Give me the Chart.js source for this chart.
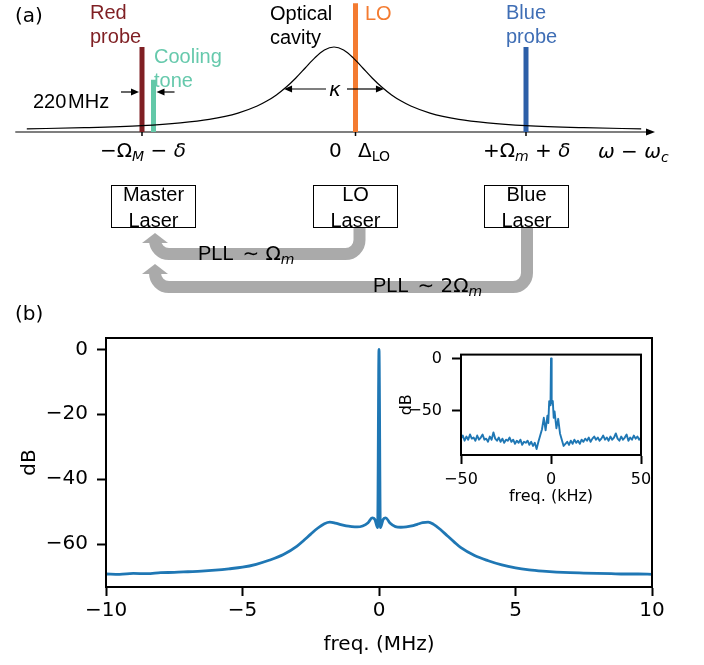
<!DOCTYPE html>
<html>
<head>
<meta charset="utf-8">
<title>Cavity tones and beat-note spectrum</title>
<script src="https://cdn.jsdelivr.net/npm/chart.js@4.4.1/dist/chart.umd.min.js"></script>
<style>
  html, body { margin: 0; padding: 0; background: #fff; }
  #fig { position: relative; width: 704px; height: 665px; overflow: hidden; font-family: "Liberation Sans", Arial, sans-serif; color: #000; }
  #fig canvas { position: absolute; }
  .lbl { position: absolute; white-space: nowrap; font-size: 20px; line-height: 24px; }
  .math { font-family: "DejaVu Sans", sans-serif; }
  .math i { font-style: italic; }
  .math sub { font-size: 14px; vertical-align: -4px; line-height: 0; }
  .box { position: absolute; top: 185px; width: 85px; height: 43px; border: 1.3px solid #000; box-sizing: border-box; }
  .boxtxt { position: absolute; top: 181px; width: 85px; text-align: center; font-size: 20px; line-height: 26px; }
</style>
</head>
<body>
<div id="fig">
  <canvas id="diagram" width="704" height="300" style="left:0;top:0"></canvas>
  <canvas id="spectrum" width="704" height="365" style="left:0;top:300px"></canvas>
  <canvas id="zoomed" width="314" height="175" style="left:390px;top:335px"></canvas>

  <div class="lbl math" style="left:15px;top:3px">(a)</div>
  <div class="lbl" style="left:90px;top:0;color:#7f1f23">Red<br>probe</div>
  <div class="lbl" style="left:154px;top:44px;color:#66c9ac">Cooling<br>tone</div>
  <div class="lbl" style="left:33px;top:89px">220&#8202;MHz</div>
  <div class="lbl" style="left:270px;top:1px">Optical<br>cavity</div>
  <div class="lbl" style="left:365px;top:1px;color:#f47b30">LO</div>
  <div class="lbl" style="left:506px;top:0;color:#3f6eb5">Blue<br>probe</div>
  <div class="lbl math" style="left:329px;top:77px"><i>κ</i></div>
  <div class="lbl math" style="left:100px;top:138px">−Ω<sub><i>M</i></sub> − <i>δ</i></div>
  <div class="lbl math" style="left:329px;top:138px">0</div>
  <div class="lbl math" style="left:358px;top:138px">Δ<sub>LO</sub></div>
  <div class="lbl math" style="left:483px;top:138px">+Ω<sub><i>m</i></sub> + <i>δ</i></div>
  <div class="lbl math" style="left:598px;top:139px"><i>ω</i> − <i>ω</i><sub><i>c</i></sub></div>

  <div class="box" style="left:111px"></div>
  <div class="box" style="left:313px"></div>
  <div class="box" style="left:484px"></div>
  <div class="boxtxt" style="left:111px">Master<br>Laser</div>
  <div class="boxtxt" style="left:313px">LO<br>Laser</div>
  <div class="boxtxt" style="left:484px">Blue<br>Laser</div>
  <div class="lbl" style="left:198px;top:241px">PLL <span class="math">&#8201;∼ Ω<sub><i>m</i></sub></span></div>
  <div class="lbl" style="left:373px;top:273px">PLL <span class="math">&#8201;∼ 2Ω<sub><i>m</i></sub></span></div>

  <div class="lbl math" style="left:15px;top:301px">(b)</div>
</div>

<script>
// ---- (a) schematic: tone frequencies in units of (Omega_m + delta), heights relative to cavity peak
const toneFreq = [-1.0, -0.94, 0.112, 1.0];      // red probe, cooling tone, LO, blue probe
const toneHeight = [1.0, 0.61, 1.52, 1.0];
const cavityX = [-1.6, -1.3, -1.0, -0.8, -0.65, -0.5, -0.4, -0.35, -0.3, -0.25, -0.2, -0.15, -0.1, -0.05, 0,
                 0.05, 0.1, 0.15, 0.2, 0.25, 0.3, 0.35, 0.4, 0.5, 0.65, 0.8, 1.0, 1.3, 1.6];
const cavityY = [0.026, 0.039, 0.063, 0.096, 0.138, 0.213, 0.297, 0.356, 0.429, 0.520, 0.628, 0.750, 0.871, 0.964, 1.0,
                 0.964, 0.871, 0.750, 0.628, 0.520, 0.429, 0.356, 0.297, 0.213, 0.138, 0.096, 0.063, 0.039, 0.026];
const cavityHalfWidth = 0.26;

// ---- (b) beat-note spectrum, MHz vs dB
const mainFreq = [-10, -9.5, -9, -8.5, -8, -7.5, -7, -6.5, -6, -5.5, -5,
                  -4.5, -4, -3.5, -3, -2.75, -2.5, -2.25, -2,
                  -1.8, -1.6, -1.4, -1.2, -1, -0.8, -0.6, -0.4,
                  -0.25, -0.15, -0.05, 0, 0.05, 0.15, 0.25,
                  0.4, 0.6, 0.8, 1, 1.2, 1.4, 1.6, 1.8,
                  2, 2.25, 2.5, 2.75, 3, 3.5, 4, 4.5, 5,
                  5.5, 6, 6.5, 7, 7.5, 8, 8.5, 9, 9.5, 10];
const mainDb = [-69.2, -69.3, -69.0, -69.1, -68.8, -68.7, -68.5, -68.3, -68.0, -67.6, -67.1,
                -66.2, -64.9, -63.2, -60.6, -58.8, -56.9, -55.1, -53.7,
                -53.2, -53.5, -54.0, -54.4, -54.6, -54.7, -54.4, -53.4,
                -51.9, -52.4, -54.9, 0, -54.9, -52.4, -51.9,
                -53.5, -54.6, -54.8, -54.7, -54.4, -53.9, -53.4, -53.2,
                -53.9, -55.5, -57.4, -59.3, -61.1, -63.5, -65.1, -66.4, -67.3,
                -67.9, -68.3, -68.6, -68.8, -68.9, -69.0, -69.1, -69.2, -69.2, -69.3];

// ---- inset, kHz vs dB
const insetFreq = [-50, -49, -48, -47, -46, -45, -44, -43, -42, -41, -40, -39, -38, -37, -36, -35, -34,
                   -33, -32, -31, -30, -29, -28, -27, -26, -25, -24, -23, -22, -21, -20, -19, -18,
                   -17, -16, -15, -14, -13, -12, -11, -10, -9, -8, -7, -6, -5, -4, -3, -2,
                   -1.5, -1, -0.5, -0.25, 0, 0.25, 0.5, 1, 1.5,
                   2, 3, 4, 5, 6, 7, 8, 9, 10, 11, 12, 13, 14, 15, 16, 17, 18,
                   19, 20, 21, 22, 23, 24, 25, 26, 27, 28, 29, 30, 31, 32, 33, 34,
                   35, 36, 37, 38, 39, 40, 41, 42, 43, 44, 45, 46, 47, 48, 49, 50];
const insetDb = [-77, -74, -79, -75, -78, -73, -77, -76, -79, -74, -78, -76, -73, -78, -77, -80, -75,
                 -78, -71, -77, -79, -76, -80, -77, -81, -78, -79, -76, -80, -78, -82, -79, -81,
                 -78, -83, -80, -81, -79, -83, -80, -84, -81, -87, -80, -74, -68, -57, -69, -55,
                 -62, -41, -45, -39, 0, -40, -43, -41, -57,
                 -51, -67, -58, -72, -78, -84, -82, -80, -83, -79, -82, -78, -81, -79, -82, -78, -80,
                 -77, -79, -76, -80, -77, -75, -78, -76, -79, -77, -74, -78, -76, -79, -75, -78,
                 -76, -72, -77, -79, -75, -78, -76, -73, -79, -76, -78, -74, -77, -75, -78, -76];

const mainXTicks = [-10, -5, 0, 5, 10];
const mainYTicks = [0, -20, -40, -60];
const insetXTicks = [-50, 0, 50];
const insetYTicks = [0, -50];

const toneColors = ['#7f1f23', '#63c8a8', '#f47b30', '#2d5fa8'];
const lineBlue = '#1f77b4';

const pts = (xs, ys) => xs.map((x, i) => ({ x: x, y: ys[i] }));
const minus = v => String(v).replace('-', '\u2212');

function arrowHead(ctx, x, y, dx, dy, len, half) {
  ctx.beginPath();
  ctx.moveTo(x, y);
  ctx.lineTo(x - dx * len - dy * half, y - dy * len + dx * half);
  ctx.lineTo(x - dx * len + dy * half, y - dy * len - dx * half);
  ctx.closePath();
  ctx.fill();
}

function thinArrow(ctx, x0, y0, x1, y1) {
  const d = Math.hypot(x1 - x0, y1 - y0), dx = (x1 - x0) / d, dy = (y1 - y0) / d;
  ctx.beginPath();
  ctx.moveTo(x0, y0);
  ctx.lineTo(x1 - dx * 5, y1 - dy * 5);
  ctx.stroke();
  arrowHead(ctx, x1, y1, dx, dy, 8, 3.5);
}

// thick grey PLL feedback arrow: down from a laser box, along, then up into the master box
function pllArrow(ctx, xs, yTop, yRun, xe, yTip) {
  const r = 14, head = 10;
  ctx.save();
  ctx.strokeStyle = '#aaaaaa';
  ctx.fillStyle = '#aaaaaa';
  ctx.lineWidth = 12;
  ctx.beginPath();
  ctx.moveTo(xs, yTop);
  ctx.arcTo(xs, yRun, xe, yRun, r);
  ctx.arcTo(xe, yRun, xe, yTip, r);
  ctx.lineTo(xe, yTip + head);
  ctx.stroke();
  ctx.beginPath();
  ctx.moveTo(xe, yTip);
  ctx.lineTo(xe + 13, yTip + head);
  ctx.lineTo(xe - 13, yTip + head);
  ctx.closePath();
  ctx.fill();
  ctx.restore();
}

const schematic = {
  id: 'schematic',
  beforeDatasetsDraw(chart) {
    const { ctx, scales: { x, y } } = chart;
    const y0 = y.getPixelForValue(0) + 1;
    ctx.save();
    ctx.strokeStyle = '#7f7f7f';
    ctx.lineWidth = 2;
    ctx.beginPath();
    ctx.moveTo(x.getPixelForValue(-1.66), y0);
    ctx.lineTo(x.getPixelForValue(1.655), y0);
    ctx.stroke();
    ctx.fillStyle = '#000';
    arrowHead(ctx, x.getPixelForValue(1.672), y0, 1, 0, 9, 3.5);
    ctx.strokeStyle = '#000';
    ctx.lineWidth = 1.5;
    [0, 2, 3].forEach(i => {
      const px = x.getPixelForValue(toneFreq[i]);
      ctx.beginPath();
      ctx.moveTo(px, y0);
      ctx.lineTo(px, y0 + 4);
      ctx.stroke();
    });
    ctx.restore();
  },
  afterDatasetsDraw(chart) {
    const { ctx, scales: { x, y } } = chart;
    ctx.save();
    ctx.strokeStyle = '#000';
    ctx.fillStyle = '#000';
    ctx.lineWidth = 1.2;
    // cavity linewidth kappa at half maximum
    const yk = y.getPixelForValue(0.5);
    const xc = x.getPixelForValue(0) + 2;
    thinArrow(ctx, xc - 10, yk, x.getPixelForValue(-cavityHalfWidth), yk);
    thinArrow(ctx, xc + 11, yk, x.getPixelForValue(cavityHalfWidth), yk);
    // 220 MHz spacing between red probe and cooling tone
    const ya = 92;
    const xr = x.getPixelForValue(toneFreq[0]), xcool = x.getPixelForValue(toneFreq[1]);
    thinArrow(ctx, xr - 21, ya, xr - 3, ya);
    thinArrow(ctx, xcool + 21, ya, xcool + 3, ya);
    ctx.restore();
    // PLL arrows
    const xm = x.getPixelForValue(toneFreq[1]) + 1.5;
    pllArrow(ctx, x.getPixelForValue(toneFreq[2]) + 4, 228, 254, xm, 233);
    pllArrow(ctx, x.getPixelForValue(toneFreq[3]) + 1, 228, 287, xm, 264);
  }
};

const framePlugin = {
  id: 'frame',
  afterDraw(chart, args, opts) {
    const { ctx, chartArea: a } = chart;
    ctx.save();
    ctx.strokeStyle = '#000';
    ctx.lineWidth = opts.width;
    ctx.strokeRect(a.left, a.top, a.right - a.left, a.bottom - a.top);
    ctx.restore();
  }
};

Chart.defaults.font.family = '"DejaVu Sans", sans-serif';
Chart.defaults.color = '#000';

// ---- (a)
new Chart(document.getElementById('diagram'), {
  type: 'scatter',
  data: {
    datasets: [
      {
        data: pts(cavityX, cavityY),
        showLine: true,
        borderColor: '#000',
        borderWidth: 1.2,
        pointRadius: 0,
        cubicInterpolationMode: 'monotone'
      },
      ...toneFreq.map((f, i) => ({
        data: [{ x: f, y: -0.012 }, { x: f, y: toneHeight[i] }],
        showLine: true,
        borderColor: toneColors[i],
        borderWidth: 5,
        borderCapStyle: 'butt',
        pointRadius: 0
      }))
    ]
  },
  options: {
    responsive: false,
    animation: false,
    devicePixelRatio: 1,
    events: [],
    layout: { padding: 0 },
    plugins: { legend: { display: false }, tooltip: { enabled: false } },
    scales: {
      x: { type: 'linear', display: false, min: -1.7396, max: 1.9271 },
      y: { type: 'linear', display: false, min: -2.012, max: 1.5595 }
    }
  },
  plugins: [schematic]
});

function axisOpts(ticks, size, tickPad, fit, extra) {
  return Object.assign({
    type: 'linear',
    afterBuildTicks: s => { s.ticks = ticks.map(v => ({ value: v })); },
    afterFit: fit,
    ticks: { font: { size: size }, color: '#000', padding: tickPad, maxRotation: 0, callback: minus },
    grid: { display: true, drawOnChartArea: false, drawTicks: true, tickLength: 9, tickWidth: 2, tickColor: '#000' },
    border: { display: true, color: '#000', width: 2 }
  }, extra);
}

// ---- (b) main spectrum
new Chart(document.getElementById('spectrum'), {
  type: 'scatter',
  data: {
    datasets: [{
      data: pts(mainFreq, mainDb),
      showLine: true,
      borderColor: lineBlue,
      borderWidth: 2.8,
      borderJoinStyle: 'round',
      pointRadius: 0,
      cubicInterpolationMode: 'monotone'
    }]
  },
  options: {
    responsive: false,
    animation: false,
    devicePixelRatio: 1,
    events: [],
    layout: { padding: { left: 0, top: 38, right: 52, bottom: 0 } },
    plugins: { legend: { display: false }, tooltip: { enabled: false }, frame: { width: 2 } },
    scales: {
      x: axisOpts(mainXTicks, 20, 3, s => { s.height = 78; }, {
        min: -10, max: 10,
        title: { display: true, text: 'freq. (MHz)', font: { size: 20 }, color: '#000', padding: { top: 0, bottom: 8 } }
      }),
      y: axisOpts(mainYTicks, 20, 9, s => { s.width = 106; }, {
        min: -73.2, max: 3.5,
        title: { display: true, text: 'dB', font: { size: 20 }, color: '#000', padding: { top: 18, bottom: 0 } }
      })
    }
  },
  plugins: [framePlugin]
});

// ---- (b) inset, zoom on the carrier
new Chart(document.getElementById('zoomed'), {
  type: 'scatter',
  data: {
    datasets: [{
      data: pts(insetFreq, insetDb),
      showLine: true,
      borderColor: lineBlue,
      borderWidth: 1.9,
      borderJoinStyle: 'round',
      pointRadius: 0
    }]
  },
  options: {
    responsive: false,
    animation: false,
    devicePixelRatio: 1,
    events: [],
    layout: { padding: { left: 0, top: 14, right: 63, bottom: 0 } },
    plugins: { legend: { display: false }, tooltip: { enabled: false }, frame: { width: 2 } },
    scales: {
      x: axisOpts(insetXTicks, 16, 6, s => { s.height = 55; }, {
        min: -50, max: 50,
        title: { display: true, text: 'freq. (kHz)', font: { size: 16 }, color: '#000', padding: { top: 0, bottom: 4 } }
      }),
      y: axisOpts(insetYTicks, 16, 10, s => { s.width = 71; }, {
        min: -92.7, max: 3.6,
        title: { display: true, text: 'dB', font: { size: 16 }, color: '#000', padding: { top: 7, bottom: 0 } }
      })
    }
  },
  plugins: [framePlugin]
});
</script>
</body>
</html>
